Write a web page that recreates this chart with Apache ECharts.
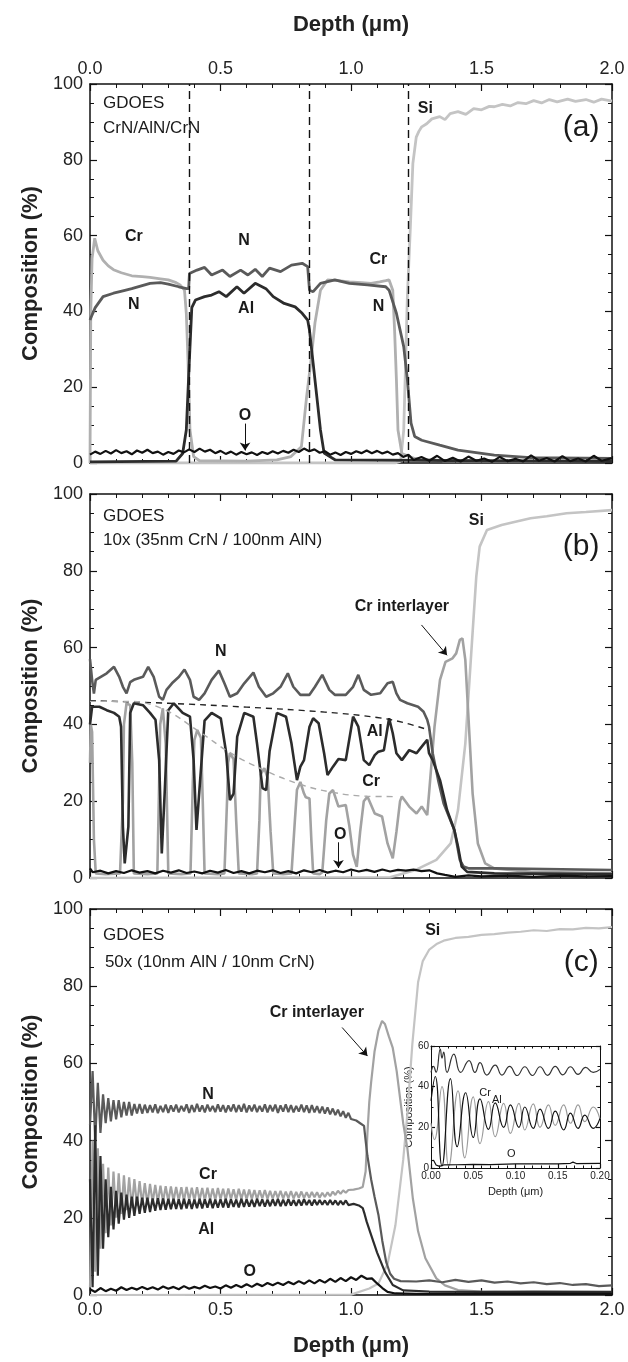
<!DOCTYPE html>
<html>
<head>
<meta charset="utf-8">
<script src="https://cdn.jsdelivr.net/npm/echarts@6/dist/echarts.min.js"></script>
<style>
html, body { margin: 0; background: #fff; }
#chart { width: 628px; height: 1362px; }
</style>
</head>
<body>
<div id="chart"></div>
<script>
// ---- panel (a): CrN/AlN/CrN ----
var siA = [[0,0],[1.17,0],[1.19,0.5],[1.202,8.7],[1.209,26],[1.216,44],[1.227,61.5],[1.237,79],[1.25,86],[1.26,87.5],[1.271,88.7],[1.29,89.5],[1.31,90.8],[1.34,91.4],[1.36,90.6],[1.38,92.2],[1.41,92.7],[1.44,92],[1.47,93.5],[1.5,93.2],[1.53,94.1],[1.549,94],[1.58,94.6],[1.61,94.2],[1.64,95.1],[1.67,94.8],[1.7,95.6],[1.73,95],[1.76,95.9],[1.79,95.3],[1.83,96],[1.86,95.4],[1.9,95.9],[1.93,95.2],[1.96,96],[2.0,95.5]];
var crA = [[0,0],[0.003,40],[0.008,54],[0.018,59.3],[0.03,56],[0.05,53.5],[0.07,52],[0.09,51],[0.12,50.2],[0.16,49.4],[0.2,49.2],[0.23,49],[0.27,48.6],[0.3,48.3],[0.33,47.6],[0.345,47],[0.362,45.6],[0.369,39.5],[0.376,26],[0.383,8.7],[0.397,1.7],[0.42,0.6],[0.6,0.5],[0.716,0.8],[0.77,1.7],[0.81,4.3],[0.83,17.5],[0.845,26],[0.862,37],[0.883,45.6],[0.91,48.3],[0.95,48.1],[0.994,47.8],[1.04,47.6],[1.077,47.4],[1.11,47.8],[1.133,48.1],[1.146,48.3],[1.16,45.6],[1.167,35],[1.174,22],[1.18,8.7],[1.195,2.5],[1.244,1.2],[1.35,0.6],[2.0,0.4]];
var nA = [[0,37.7],[0.005,38.6],[0.02,41],[0.05,43.9],[0.09,44.8],[0.13,45.5],[0.16,46],[0.2,46.8],[0.23,47.4],[0.27,47.6],[0.3,47.2],[0.34,46.5],[0.37,46],[0.378,46],[0.381,50],[0.41,50.9],[0.439,51.6],[0.466,49.6],[0.508,50.9],[0.536,49.2],[0.577,50.9],[0.605,49.6],[0.633,51.1],[0.66,49.2],[0.688,51.4],[0.73,50.5],[0.772,52.2],[0.813,52.7],[0.834,51.8],[0.841,45.6],[0.855,45.2],[0.883,47.4],[0.938,48.3],[0.994,47.4],[1.063,47],[1.133,46.5],[1.146,45.6],[1.174,39.5],[1.202,30.7],[1.216,22],[1.23,10.5],[1.244,7],[1.271,6],[1.34,4.7],[1.41,3.4],[1.549,2.1],[1.688,1.4],[2.0,1.2]];
var alA = [[0,0.3],[0.33,0.5],[0.355,2.5],[0.369,8.7],[0.38,26],[0.39,41],[0.404,43],[0.439,43.9],[0.466,44.3],[0.494,45.2],[0.522,43.9],[0.563,46.5],[0.59,44.8],[0.633,47.4],[0.674,46],[0.702,43.9],[0.744,42.1],[0.786,41.2],[0.813,39.5],[0.834,37.7],[0.841,35],[0.855,26.3],[0.869,17.5],[0.883,8.7],[0.897,2.6],[0.94,0.8],[2.0,0.4]];
var oA = [[0,2.2],[0.02,3],[0.04,2.4],[0.06,3.2],[0.08,2.5],[0.1,3.4],[0.12,2.6],[0.14,3.1],[0.16,2.3],[0.18,3.3],[0.2,2.7],[0.22,3.5],[0.24,2.6],[0.26,3],[0.28,2.2],[0.3,2.9],[0.32,2.4],[0.34,3.3],[0.36,2.8],[0.38,3.6],[0.4,2.9],[0.42,3.8],[0.44,3],[0.46,3.5],[0.48,2.6],[0.5,3.2],[0.52,2.4],[0.54,3],[0.56,2.2],[0.58,2.9],[0.6,2.3],[0.62,2.8],[0.64,2.1],[0.66,2.9],[0.68,2.4],[0.7,3.1],[0.72,2.5],[0.74,3.2],[0.76,2.7],[0.78,3.5],[0.8,2.9],[0.82,3.8],[0.84,3.1],[0.86,3.6],[0.88,2.7],[0.9,3.1],[0.92,2.2],[0.94,2.8],[0.96,2.1],[0.98,2.9],[1.0,2.4],[1.02,3.1],[1.04,2.6],[1.06,3.3],[1.08,2.6],[1.1,3.2],[1.12,2.5],[1.14,3],[1.16,2.2],[1.18,2.6],[1.2,1.6],[1.22,2.2],[1.24,0.8],[1.27,1.6],[1.3,0.6],[1.33,1.9],[1.36,0.5],[1.39,1.4],[1.42,0.4],[1.45,1.7],[1.48,0.6],[1.51,1.2],[1.54,0.3],[1.57,1.6],[1.6,0.5],[1.63,1.1],[1.66,0.4],[1.69,2],[1.72,0.6],[1.75,1.3],[1.78,0.4],[1.81,1.8],[1.84,0.5],[1.87,1.2],[1.9,0.4],[1.93,1.9],[1.96,0.6],[2.0,1.3]];
var layerEdgesA = [0.38, 0.845, 1.215];

// ---- panel (b): 10x (35nm CrN / 100nm AlN) ----
var siB = [[0,0],[1.15,0.2],[1.244,2],[1.327,4.7],[1.382,9],[1.41,17.7],[1.438,35],[1.459,56.8],[1.48,78.5],[1.493,86.3],[1.521,90.6],[1.577,91.9],[1.63,92.8],[1.688,93.7],[1.75,94.2],[1.826,95],[1.9,95.3],[2.0,95.8]];
var crB = [[0,30],[0.003,40],[0.008,38],[0.015,10],[0.022,1.2],[0.06,1],[0.115,1.2],[0.126,20],[0.13,40],[0.14,45.5],[0.154,45],[0.162,30],[0.168,1.2],[0.22,1],[0.258,1.2],[0.265,25],[0.269,40],[0.279,44.2],[0.29,35],[0.3,1.2],[0.35,1],[0.385,1.2],[0.394,25],[0.4,36],[0.411,38.5],[0.425,36.5],[0.432,20],[0.439,1.2],[0.49,1],[0.515,1.2],[0.525,20],[0.529,30],[0.536,32.5],[0.55,31],[0.56,15],[0.57,1.2],[0.62,1],[0.64,1.2],[0.649,15],[0.654,27],[0.668,28.6],[0.681,26],[0.692,12],[0.702,1.2],[0.74,1],[0.772,1.2],[0.785,15],[0.793,23],[0.806,25],[0.82,22],[0.827,21],[0.841,20.7],[0.848,10],[0.855,1.2],[0.88,1],[0.89,1.5],[0.905,15],[0.917,22],[0.931,22.9],[0.952,18.6],[0.98,19],[0.994,13.4],[1.008,6],[1.022,2.9],[1.035,12],[1.049,20],[1.063,21.2],[1.091,16.8],[1.119,16],[1.14,9],[1.16,5.1],[1.174,12],[1.188,20],[1.195,21.2],[1.223,18.6],[1.251,16.8],[1.271,18.6],[1.292,16.4],[1.299,22],[1.32,39.4],[1.341,51.6],[1.362,56.3],[1.389,57.2],[1.403,58.5],[1.417,62],[1.427,62.4],[1.438,56.8],[1.452,39.4],[1.466,22],[1.486,9],[1.514,3.8],[1.549,2.5],[1.688,1.6],[2.0,1.2]];
var alB = [[0,40],[0.008,44.6],[0.036,44.6],[0.064,43.7],[0.092,43],[0.112,42],[0.119,39.4],[0.126,13.4],[0.133,3.8],[0.147,13.4],[0.154,43],[0.168,45.5],[0.203,45],[0.23,43],[0.251,41.2],[0.265,30.7],[0.275,6.4],[0.286,22],[0.3,43.7],[0.321,45.5],[0.355,43],[0.383,42],[0.397,30.7],[0.408,12.5],[0.422,25.5],[0.439,41],[0.466,43],[0.501,41.6],[0.522,32.5],[0.536,20.3],[0.55,22],[0.564,36.8],[0.591,43],[0.626,42],[0.64,35],[0.661,23.4],[0.675,22.9],[0.688,33],[0.716,43],[0.751,42],[0.772,35],[0.793,25.5],[0.806,29],[0.82,30.7],[0.841,39.4],[0.855,41.6],[0.876,40.3],[0.897,32.5],[0.91,26.8],[0.931,29],[0.952,31],[0.98,30.7],[1.008,42],[1.028,39.4],[1.049,30.7],[1.07,29.4],[1.091,32],[1.105,32.9],[1.126,33.3],[1.146,41.6],[1.16,37.7],[1.174,32.5],[1.195,30.7],[1.223,33.3],[1.251,32.5],[1.271,34.2],[1.292,36],[1.299,32.5],[1.313,30.7],[1.341,25.5],[1.368,17.7],[1.396,12.5],[1.41,8.2],[1.424,3],[1.445,1.6],[1.549,1.2],[2.0,1.0]];
var nB = [[0,57],[0.008,51.6],[0.015,48],[0.022,51.6],[0.064,53.3],[0.092,55],[0.112,52.4],[0.126,49.8],[0.14,48.1],[0.154,51],[0.168,51.6],[0.203,52.4],[0.223,55],[0.244,52.4],[0.265,47.2],[0.279,46.4],[0.293,49],[0.314,50.7],[0.341,52.4],[0.362,54.3],[0.383,51.6],[0.397,47.2],[0.418,46.4],[0.439,48.1],[0.466,51.6],[0.494,54],[0.515,50.7],[0.536,47.2],[0.564,48.1],[0.591,50.7],[0.626,53.5],[0.647,49.8],[0.675,47.2],[0.702,48.1],[0.73,49.8],[0.758,53.3],[0.779,49.8],[0.806,47.7],[0.841,47.7],[0.862,49.8],[0.89,52.9],[0.917,49],[0.938,47.7],[0.98,47.7],[1.008,49.8],[1.028,52.9],[1.049,49],[1.077,47.7],[1.112,48.1],[1.14,50.7],[1.16,51.1],[1.174,48.1],[1.188,46.4],[1.216,45.5],[1.257,44.6],[1.278,43.3],[1.292,41.2],[1.299,39.4],[1.313,32.5],[1.334,25.5],[1.355,19.4],[1.375,16],[1.396,12.5],[1.417,4.7],[1.431,3],[1.452,2.5],[1.549,2.5],[2.0,2.1]];
var oB = [[0,2.5],[0.01,1.5],[0.04,1.9],[0.07,1.2],[0.1,1.8],[0.13,1.3],[0.16,2],[0.19,1.4],[0.22,1.8],[0.25,1.2],[0.28,1.9],[0.31,1.4],[0.34,2],[0.37,1.3],[0.4,1.7],[0.43,1.2],[0.46,1.9],[0.49,1.4],[0.52,2.1],[0.55,1.3],[0.58,1.8],[0.61,1.2],[0.64,1.9],[0.67,1.5],[0.7,2],[0.73,1.3],[0.76,1.8],[0.79,1.2],[0.82,2],[0.85,1.5],[0.88,2.1],[0.91,1.4],[0.94,1.9],[0.97,1.5],[1.0,2.2],[1.03,1.7],[1.06,2.1],[1.09,1.6],[1.12,2.2],[1.15,1.7],[1.18,2.1],[1.21,1.9],[1.24,2.2],[1.27,1.8],[1.3,2],[1.33,1.2],[1.36,0.8],[1.4,0.3],[1.45,0.7],[1.5,0.4],[1.6,0.6],[1.7,0.3],[1.8,0.6],[1.9,0.4],[2.0,0.5]];
var alEnvB = [[0,46.2],[0.3,45.5],[0.6,44.5],[0.9,43.2],[1.1,41.8],[1.2,40.5],[1.3,38.5]];
var crEnvB = [[0,46],[0.15,46],[0.28,44],[0.41,38.5],[0.54,32.5],[0.66,28.3],[0.8,24.5],[0.93,22.3],[1.06,21.3],[1.16,21.2]];

// ---- panel (c): 50x (10nm AlN / 10nm CrN) ----
// multilayer part read every oscStep um from 0, then the tail as depth/value pairs
var oscStep = 0.01;
var nOscC = [44,58,40,55,42,52,44.5,51,45,50.5,
  45.5,50.5,46,50,46.5,50,46.5,49.5,47,49.5,
  47,49.3,47.2,49.2,47.3,49.4,47.1,49,47.4,49.3,
  47.2,49.1,47.5,49.3,47.3,49,47.6,49.4,47.2,49.2,
  47.4,49.5,47.5,49.1,47.3,49.3,47.6,49,47.4,49.4,
  47.5,49.2,47.3,49.1,47.6,49.4,47.4,49.2,47.5,49.5,
  47.3,49.1,47.6,49.3,47.4,49,47.5,49.4,47.3,49.2,
  47.6,49.3,47.2,49.1,47.5,49.4,47.4,49.2,47.3,49,
  47.5,49.3,47.4,49.1,47.2,49.2,47.3,48.9,47.1,48.8,
  47,48.6,46.8,48.3,46.6,48,46.3,47.6,45.9,47.2];
var nTailC = [[1.0,45.6],[1.02,45.2],[1.035,44.5],[1.05,43.8],[1.056,40],[1.063,36],[1.077,30],[1.09,25.5],[1.105,20.8],[1.12,14],[1.135,8.5],[1.15,5.5],[1.165,4.2],[1.19,3.6],[1.25,3.5],[1.3,3.8],[1.35,3.3],[1.4,3.9],[1.45,3.4],[1.5,3.8],[1.55,3.2],[1.6,3.5],[1.65,3],[1.7,3.3],[1.75,2.8],[1.8,3.1],[1.85,2.6],[1.9,2.8],[1.95,2.3],[2.0,2.5]];
var crOscC = [2,40,6,38,12,34,16,33,18,32,
  20,31.5,21,31,22,30.5,22.5,30,23,29.5,
  23.5,29,23.5,28.8,24,28.5,24,28.3,24.2,28.2,
  24.3,28.1,24.4,28,24.5,27.9,24.4,28,24.6,27.8,
  24.5,27.9,24.6,27.7,24.5,27.8,24.7,27.6,24.6,27.7,
  24.8,27.5,24.7,27.6,24.8,27.4,24.7,27.5,24.9,27.3,
  24.8,27.3,24.9,27.2,24.8,27.1,25,27.2,24.9,27,
  25,26.9,25.1,27,25,26.8,25.1,26.9,25,26.7,
  25.2,26.8,25.1,26.6,25.2,26.7,25.3,26.6,25.2,26.5,
  25.4,26.6,25.6,26.8,25.9,27,26.2,27.1,26.5,27.2];
var crTailC = [[1.01,27.3],[1.03,27.6],[1.045,28],[1.052,28.5],[1.056,32],[1.063,42],[1.07,50],[1.077,55],[1.09,63],[1.105,68.4],[1.119,71],[1.13,70.2],[1.145,67],[1.16,64],[1.175,58],[1.188,51],[1.2,44.5],[1.216,38],[1.237,25],[1.257,16.5],[1.285,9.5],[1.327,4.3],[1.36,2.5],[1.41,1.3],[1.5,0.9],[1.7,0.6],[2.0,0.5]];
var alOscC = [30,2,44,5,36,12,30,15,28,17,
  27,18.5,26.5,19.5,26,20,25.5,20.5,25.5,21,
  25.2,21.3,25.2,21.5,25,21.8,25.1,22,25,22.1,
  24.9,22.2,24.9,22.3,24.8,22.2,24.9,22.4,24.8,22.3,
  24.7,22.5,24.9,22.4,24.8,22.6,24.9,22.5,24.7,22.6,
  24.8,22.7,24.9,22.6,24.8,22.8,24.7,22.7,24.9,22.8,
  24.8,22.9,24.7,22.8,24.9,23,24.8,22.9,24.7,23,
  24.8,23.1,24.9,23,24.7,23.1,24.8,23.2,24.6,23.1,
  24.7,23.2,24.8,23.3,24.6,23.2,24.7,23.3,24.6,23.4,
  24.5,23.3,24.6,23.4,24.5,23.3,24.4,23.4,24.5,23.3];
var alTailC = [[1.01,23.6],[1.03,23.2],[1.045,22.5],[1.052,21],[1.06,19],[1.077,15.6],[1.1,11],[1.13,6],[1.16,2.6],[1.2,1.2],[1.3,0.9],[1.5,0.8],[1.7,0.9],[2.0,0.8]];
var siC = [[0,0],[1.0,0.1],[1.07,1.7],[1.105,3],[1.14,8],[1.17,18],[1.2,35],[1.216,47],[1.235,65],[1.257,81],[1.275,86.5],[1.3,89.5],[1.33,91],[1.355,91.8],[1.4,92.5],[1.45,92.8],[1.5,93.3],[1.549,93.5],[1.6,93.9],[1.65,94.1],[1.7,94.5],[1.75,94.3],[1.8,94.8],[1.85,94.7],[1.9,95.1],[1.95,95],[2.0,95.3]];
var oC = [[0,1.5],[0.02,0.8],[0.04,1.8],[0.06,1],[0.08,1.6],[0.1,1.1],[0.12,2],[0.14,1.3],[0.16,1.9],[0.18,1.4],[0.2,2.1],[0.22,1.5],[0.24,2],[0.26,1.4],[0.28,2.2],[0.3,1.6],[0.32,2.1],[0.34,1.5],[0.36,2.3],[0.38,1.6],[0.4,2.1],[0.42,1.7],[0.44,2.4],[0.46,1.8],[0.48,2.2],[0.5,1.7],[0.52,2.5],[0.54,1.9],[0.56,2.6],[0.58,2],[0.6,2.8],[0.62,2.1],[0.64,2.9],[0.66,2.3],[0.68,3.1],[0.7,2.5],[0.72,3.2],[0.74,2.6],[0.76,3.4],[0.78,2.8],[0.8,3.6],[0.82,2.9],[0.84,3.8],[0.86,3],[0.88,3.9],[0.9,3.2],[0.92,4.2],[0.94,3.4],[0.96,4.4],[0.98,3.6],[1.0,4.6],[1.02,3.9],[1.04,5],[1.06,4.2],[1.08,4.3],[1.1,3],[1.12,1.8],[1.14,0.8],[1.17,0.4],[1.25,0.3],[1.5,0.3],[2.0,0.3]];

// ---- inset of (c): first 0.2 um ----
var nIn = [[0,47],[0.003,50],[0.006,47],[0.011,58.5],[0.013,54],[0.015,57],[0.019,47],[0.027,56],[0.035,47],[0.045,52.8],[0.052,47],[0.058,51.8],[0.066,45.7],[0.076,50.6],[0.084,45.7],[0.093,50],[0.102,45.5],[0.111,49.8],[0.12,45.5],[0.129,49.8],[0.138,45.6],[0.147,50],[0.156,45.8],[0.165,49.8],[0.174,46],[0.183,49.5],[0.192,47],[0.2,48.5]];
var alIn = [[0,33],[0.005,45],[0.013,1],[0.023,44],[0.031,10.5],[0.041,37],[0.05,15],[0.058,34],[0.068,19],[0.076,32],[0.086,20],[0.094,31],[0.104,20],[0.111,30],[0.121,19.5],[0.129,29],[0.139,19.5],[0.147,28],[0.157,18.7],[0.165,27],[0.174,19.5],[0.182,26],[0.192,19.5],[0.2,24.4]];
var crIn = [[0,22],[0.004,14],[0.013,40],[0.021,1],[0.032,38],[0.04,5],[0.05,35],[0.058,12],[0.068,32.6],[0.076,15.4],[0.086,31.8],[0.094,17],[0.104,31.8],[0.111,18.7],[0.121,31.5],[0.129,20],[0.139,31],[0.147,21],[0.157,31],[0.165,22],[0.174,31],[0.182,22.8],[0.192,30],[0.2,24]];
var oIn = [[0,3.5],[0.003,3.8],[0.006,1.5],[0.01,0.8],[0.015,1.5],[0.03,1.6],[0.05,1.8],[0.07,1.7],[0.1,2],[0.13,2.1],[0.15,2],[0.165,2.3],[0.168,2.9],[0.172,2.2],[0.2,2.3]];

// text placed in data units: [panel, depth, composition, text, kind]
var notes = [
  [0, 0.05, 94.9, 'GDOES', 'note'], [0, 0.05, 88.3, 'CrN/AlN/CrN', 'note'], [0, 1.882, 88.5, '(a)', 'tag'],
  [0, 0.168, 59.7, 'Cr', 'el'], [0, 0.59, 58.8, 'N', 'el'], [0, 0.168, 41.7, 'N', 'el'], [0, 0.598, 40.8, 'Al', 'el'],
  [0, 1.105, 53.6, 'Cr', 'el'], [0, 1.105, 41.2, 'N', 'el'], [0, 1.285, 93.6, 'Si', 'el'], [0, 0.594, 12.5, 'O', 'el'],
  [1, 0.05, 94.1, 'GDOES', 'note'], [1, 0.05, 88, '10x (35nm CrN / 100nm AlN)', 'note'], [1, 1.882, 86.3, '(b)', 'tag'],
  [1, 1.48, 93.2, 'Si', 'el'], [1, 1.195, 70.7, 'Cr interlayer', 'el'], [1, 0.501, 58.9, 'N', 'el'],
  [1, 1.091, 38.1, 'Al', 'el'], [1, 1.077, 25.1, 'Cr', 'el'], [1, 0.959, 11.4, 'O', 'el'],
  [2, 0.05, 93.1, 'GDOES', 'note'], [2, 0.057, 86.1, '50x (10nm AlN / 10nm CrN)', 'note'], [2, 1.882, 86.1, '(c)', 'tag'],
  [2, 1.313, 94.4, 'Si', 'el'], [2, 0.869, 73.2, 'Cr interlayer', 'el'], [2, 0.452, 52, 'N', 'el'],
  [2, 0.452, 31.2, 'Cr', 'el'], [2, 0.445, 16.9, 'Al', 'el'], [2, 0.612, 6.1, 'O', 'el'],
  [3, 0.064, 37, 'Cr', 'small'], [3, 0.078, 33.5, 'Al', 'small'], [3, 0.095, 7, 'O', 'small']
];
// arrows: [from depth, from comp, to depth, to comp]
var arrowsA = [[0.594, 10.4, 0.594, 3.3]];
var arrowsB = [[0.952, 9.3, 0.952, 2.6], [1.27, 65.9, 1.368, 58]];
var arrowsC = [[0.966, 69.3, 1.063, 61.9]];

var FONT = '"Liberation Sans", Arial, Helvetica, sans-serif';
var COL = { si: '#c4c4c4', cr: '#a2a2a2', n: '#5a5a5a', al: '#2c2c2c', o: '#111111' };

function osc(vals, tail) {
  var out = vals.map(function (v, i) { return [+(i * oscStep).toFixed(3), v]; });
  return out.concat(tail);
}

function xAxis(grid, pos, showLabel, name, inset) {
  return {
    type: 'value', gridIndex: grid, position: pos,
    min: 0, max: inset ? 0.2 : 2, interval: inset ? 0.05 : 0.5,
    axisLine: { show: true, onZero: false, lineStyle: { color: '#111', width: inset ? 1 : 1.5 } },
    axisTick: { show: true, inside: true, length: inset ? 4 : 7, lineStyle: { color: '#111', width: 1.2 } },
    minorTick: { show: true, splitNumber: 5, length: inset ? 2.5 : 4, lineStyle: { color: '#111', width: 1 } },
    splitLine: { show: false },
    axisLabel: {
      show: showLabel, fontSize: inset ? 10 : 18, color: '#222', fontFamily: FONT, margin: inset ? 3 : 6,
      formatter: function (v) { return v.toFixed(inset ? 2 : 1); }
    },
    name: name || '', nameLocation: 'middle', nameGap: inset ? 18 : (pos === 'top' ? 48 : 40),
    nameTextStyle: { fontSize: inset ? 11 : 22, fontWeight: inset ? 'normal' : 'bold', color: '#222', fontFamily: FONT }
  };
}

function yAxis(grid, pos, showLabel, inset) {
  return {
    type: 'value', gridIndex: grid, position: pos,
    min: 0, max: inset ? 60 : 100, interval: 20,
    axisLine: { show: true, onZero: false, lineStyle: { color: '#111', width: inset ? 1 : 1.5 } },
    axisTick: { show: true, inside: true, length: inset ? 4 : 7, lineStyle: { color: '#111', width: 1.2 } },
    minorTick: { show: true, splitNumber: inset ? 2 : 4, length: inset ? 2.5 : 4, lineStyle: { color: '#111', width: 1 } },
    splitLine: { show: false },
    axisLabel: { show: showLabel, fontSize: inset ? 10 : 18, color: '#222', fontFamily: FONT, margin: inset ? 2 : 7 },
    name: showLabel ? 'Composition (%)' : '', nameLocation: 'middle', nameGap: inset ? 14 : 48,
    nameTextStyle: { fontSize: inset ? 11 : 22, fontWeight: inset ? 'normal' : 'bold', color: '#222', fontFamily: FONT }
  };
}

function line(grid, data, color, width, extra) {
  var s = {
    type: 'line', xAxisIndex: grid * 2, yAxisIndex: grid * 2, data: data,
    showSymbol: false, symbol: 'none', silent: true, animation: false,
    lineStyle: { color: color, width: width }, z: 3
  };
  for (var k in extra) s[k] = extra[k];
  return s;
}

function arrowMarks(list) {
  return {
    silent: true, symbol: ['none', 'arrow'], symbolSize: 8,
    label: { show: false }, lineStyle: { color: '#111', width: 1, type: 'solid' },
    data: list.map(function (a) { return [{ coord: [a[0], a[1]] }, { coord: [a[2], a[3]] }]; })
  };
}

var grids = [
  { left: 90, right: 16, top: 84, height: 379 },
  { left: 90, right: 16, top: 494, height: 384 },
  { left: 90, right: 16, top: 909, height: 386 },
  { left: 431, width: 169, top: 1046, height: 122, show: true, backgroundColor: '#fff', borderWidth: 0 }
];
grids.forEach(function (g) { g.outerBoundsMode = 'none'; g.containLabel = false; });

var option = {
  backgroundColor: '#ffffff',
  animation: false,
  grid: grids,
  xAxis: [
    xAxis(0, 'bottom', false), xAxis(0, 'top', true, 'Depth (μm)'),
    xAxis(1, 'bottom', false), xAxis(1, 'top', false),
    xAxis(2, 'bottom', true, 'Depth (μm)'), xAxis(2, 'top', false),
    xAxis(3, 'bottom', true, 'Depth (μm)', true), xAxis(3, 'top', false, '', true)
  ],
  yAxis: [
    yAxis(0, 'left', true), yAxis(0, 'right', false),
    yAxis(1, 'left', true), yAxis(1, 'right', false),
    yAxis(2, 'left', true), yAxis(2, 'right', false),
    yAxis(3, 'left', true, true), yAxis(3, 'right', false, true)
  ],
  series: [
    line(0, siA, COL.si, 2.8),
    line(0, crA, '#b0b0b0', 2.8),
    line(0, nA, COL.n, 2.8, {
      markLine: {
        silent: true, symbol: ['none', 'none'], label: { show: false },
        lineStyle: { color: '#111', width: 1.4, type: [8, 5] },
        data: layerEdgesA.map(function (d) { return { xAxis: d }; })
      }
    }),
    line(0, alA, COL.al, 2.8),
    line(0, oA, COL.o, 2.2, { markLine: arrowMarks(arrowsA) }),

    line(1, siB, COL.si, 2.6),
    line(1, crB, COL.cr, 2.6),
    line(1, nB, COL.n, 2.6),
    line(1, alB, COL.al, 2.6),
    line(1, oB, COL.o, 2.2, { markLine: arrowMarks(arrowsB) }),
    line(1, alEnvB, '#222', 1.4, { smooth: 0.4, lineStyle: { color: '#222', width: 1.4, type: [6, 5] } }),
    line(1, crEnvB, '#aaaaaa', 1.4, { smooth: 0.4, lineStyle: { color: '#aaaaaa', width: 1.4, type: [6, 5] } }),

    line(2, siC, COL.si, 2.2),
    line(2, osc(crOscC, crTailC), COL.cr, 2.2),
    line(2, osc(nOscC, nTailC), COL.n, 2.2),
    line(2, osc(alOscC, alTailC), COL.al, 2.2),
    line(2, oC, COL.o, 2.2, { markLine: arrowMarks(arrowsC) }),

    line(3, crIn, '#9a9a9a', 1.2, { smooth: 0.5, z: 10 }),
    line(3, nIn, '#333', 1.2, { smooth: 0.5, z: 10 }),
    line(3, alIn, '#111', 1.2, { smooth: 0.5, z: 10 }),
    line(3, oIn, '#111', 1.2, { z: 10 })
  ]
};

var chart = echarts.init(document.getElementById('chart'), null, { renderer: 'canvas' });
chart.setOption(option);

var STYLE = {
  note: { font: '17px ' + FONT, align: 'left' },
  tag: { font: '30px ' + FONT, align: 'center' },
  el: { font: 'bold 16px ' + FONT, align: 'center' },
  small: { font: '11px ' + FONT, align: 'center' }
};
var gfx = notes.map(function (t) {
  var p = chart.convertToPixel({ xAxisIndex: t[0] * 2, yAxisIndex: t[0] * 2 }, [t[1], t[2]]);
  var st = STYLE[t[4]];
  return {
    type: 'text', x: p[0], y: p[1], z: 100, silent: true,
    style: {
      text: t[3], font: st.font, fill: '#1a1a1a',
      align: st.align, verticalAlign: 'middle', textAlign: st.align, textVerticalAlign: 'middle'
    }
  };
});
chart.setOption({ graphic: gfx });
</script>
</body>
</html>
